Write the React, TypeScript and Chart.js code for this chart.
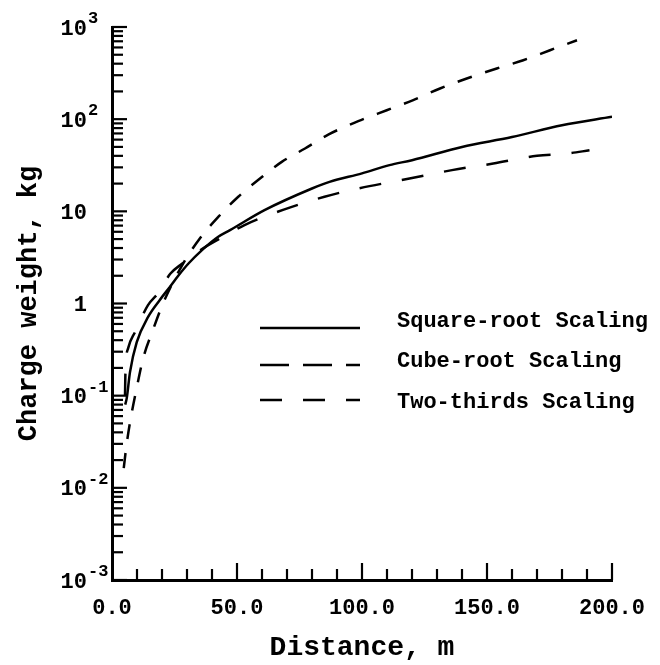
import React, { useEffect, useRef } from "react";
import { Chart, registerables } from "chart.js";

Chart.register(...registerables);

// ---- data ----
const sqrtDistance = [5.3, 5.9, 7.2, 9.9, 14.5, 19.2, 23.2, 26.5, 30.5, 36, 42.5, 47.2, 61, 80, 87, 100, 111, 120, 140, 160, 180, 200];
const sqrtWeight = [0.08, 0.094, 0.18, 0.38, 0.72, 1.1, 1.52, 2.0, 2.7, 3.8, 5.3, 6.25, 10.3, 17.7, 20.9, 25.8, 31.7, 35.9, 50, 64, 86, 106];

const cubeDistance = [4.7, 5.8, 7.5, 9.7, 12.5, 16.3, 20.4, 28.5, 35.2, 42.5, 50.5, 59.2, 67.9, 77.2, 86.5, 98.5, 109.9, 120.5, 131.2, 141.9, 153.9, 164.5, 175.2, 186];
const cubeWeight = [0.0164, 0.029, 0.057, 0.115, 0.256, 0.51, 1.0, 2.72, 5.1, 8.7, 14.4, 22.7, 34.4, 48, 68, 95, 125, 161, 215, 276, 355, 436, 560, 719];

const twoThirdsDistance = [5.2, 5.4, 6.5, 9.2, 14.4, 18.5, 23.3, 28, 36, 45, 53, 69, 85, 98.5, 119, 136, 152.5, 170, 182.5, 191];
const twoThirdsWeight = [0.1, 0.19, 0.33, 0.49, 0.96, 1.3, 2.1, 2.7, 3.9, 5.4, 7.1, 10.5, 14.4, 17.7, 22.7, 28, 33, 40, 42.5, 46];

const seriesLabels = ["Square-root Scaling", "Cube-root Scaling", "Two-thirds Scaling"];
const xTickLabels = ["0.0", "50.0", "100.0", "150.0", "200.0"];
const yExponents = [-3, -2, -1, 0, 1, 2, 3];

const FONT = "'Liberation Mono', 'DejaVu Sans Mono', monospace";

const toPoints = (xs: number[], ys: number[]) => xs.map((x, i) => ({ x, y: ys[i] }));

const customPlugin = {
  id: "customDecor",
  afterDraw(chart: any) {
    const ctx = chart.ctx as CanvasRenderingContext2D;
    const xs = chart.scales.x;
    const ys = chart.scales.y;
    const { left, bottom } = chart.chartArea;
    ctx.save();
    ctx.strokeStyle = "#000";
    ctx.fillStyle = "#000";
    ctx.lineWidth = 2.2;
    ctx.setLineDash([]);

    // y ticks (inward)
    for (let e = -3; e <= 3; e++) {
      for (let m = 1; m <= 9; m++) {
        if (e === 3 && m > 1) break;
        const y = ys.getPixelForValue(m * Math.pow(10, e));
        const len = m === 1 ? 15 : 11;
        ctx.beginPath();
        ctx.moveTo(left, y);
        ctx.lineTo(left + len, y);
        ctx.stroke();
      }
    }
    // x ticks (inward)
    for (let v = 10; v <= 200; v += 10) {
      const x = xs.getPixelForValue(v);
      const len = v % 50 === 0 ? 17 : 11;
      ctx.beginPath();
      ctx.moveTo(x, bottom);
      ctx.lineTo(x, bottom - len);
      ctx.stroke();
    }

    // y labels with superscripts
    const baseRight = left - 25;
    yExponents.forEach((e) => {
      const y = ys.getPixelForValue(Math.pow(10, e));
      ctx.textBaseline = "middle";
      ctx.textAlign = "right";
      ctx.font = `bold 22px ${FONT}`;
      const base = e === 0 ? "1" : "10";
      ctx.fillText(base, baseRight, y + 2);
      if (e !== 0 && e !== 1) {
        ctx.textAlign = "left";
        ctx.font = `bold 17px ${FONT}`;
        ctx.fillText(String(e), baseRight + 1, y - 8);
      }
    });

    // legend
    const rows = [
      { lineY: 328, textY: 321, dash: [] as number[] },
      { lineY: 365, textY: 361, dash: [29, 14] },
      { lineY: 400, textY: 402, dash: [22, 21] },
    ];
    ctx.lineWidth = 2.5;
    rows.forEach((r, i) => {
      ctx.setLineDash(r.dash);
      ctx.beginPath();
      ctx.moveTo(260, r.lineY);
      ctx.lineTo(360, r.lineY);
      ctx.stroke();
      ctx.setLineDash([]);
      ctx.font = `bold 22px ${FONT}`;
      ctx.textAlign = "left";
      ctx.textBaseline = "middle";
      ctx.fillText(seriesLabels[i], 397, r.textY);
    });
    ctx.restore();
  },
};

export default function App() {
  const canvasRef = useRef<HTMLCanvasElement | null>(null);

  useEffect(() => {
    if (!canvasRef.current) return;
    const chart = new Chart(canvasRef.current, {
      type: "line",
      data: {
        datasets: [
          {
            label: seriesLabels[0],
            data: toPoints(sqrtDistance, sqrtWeight),
            borderColor: "#000",
            borderWidth: 2.5,
            pointRadius: 0,
            cubicInterpolationMode: "monotone",
            fill: false,
          },
          {
            label: seriesLabels[1],
            data: toPoints(cubeDistance, cubeWeight),
            borderColor: "#000",
            borderWidth: 2.5,
            borderDash: [15, 14],
            pointRadius: 0,
            cubicInterpolationMode: "monotone",
            fill: false,
          },
          {
            label: seriesLabels[2],
            data: toPoints(twoThirdsDistance, twoThirdsWeight),
            borderColor: "#000",
            borderWidth: 2.5,
            borderDash: [22, 21],
            pointRadius: 0,
            cubicInterpolationMode: "monotone",
            fill: false,
          },
        ],
      },
      options: {
        animation: false,
        responsive: false,
        layout: { padding: { top: 27, right: 48, left: 0, bottom: 0 } },
        plugins: { legend: { display: false }, tooltip: { enabled: false } },
        scales: {
          x: {
            type: "linear",
            min: 0,
            max: 200,
            grid: { display: false },
            border: { display: true, color: "#000", width: 3 },
            ticks: {
              stepSize: 10,
              autoSkip: false,
              maxRotation: 0,
              padding: 7,
              color: "#000",
              font: { family: FONT, size: 22, weight: "bold" },
              callback: (v: any) => (Number(v) % 50 === 0 ? xTickLabels[Number(v) / 50] : ""),
            },
            title: {
              display: true,
              text: "Distance, m",
              color: "#000",
              font: { family: FONT, size: 28, weight: "bold" },
              padding: { top: 0, bottom: 0 },
            },
            afterFit: (scale: any) => {
              scale.height = 85;
            },
          },
          y: {
            type: "logarithmic",
            min: 0.001,
            max: 1000,
            grid: { display: false },
            border: { display: true, color: "#000", width: 3 },
            ticks: { display: false },
            title: {
              display: true,
              text: "Charge weight, kg",
              color: "#000",
              font: { family: FONT, size: 27, weight: "bold" },
              padding: { top: 13, bottom: 0 },
            },
            afterFit: (scale: any) => {
              scale.width = 112;
            },
          },
        },
      },
      plugins: [customPlugin],
    } as any);
    return () => chart.destroy();
  }, []);

  return (
    <div style={{ position: "fixed", left: 0, top: 0, width: 660, height: 665, background: "#fff" }}>
      <canvas ref={canvasRef} width={660} height={665} />
    </div>
  );
}
